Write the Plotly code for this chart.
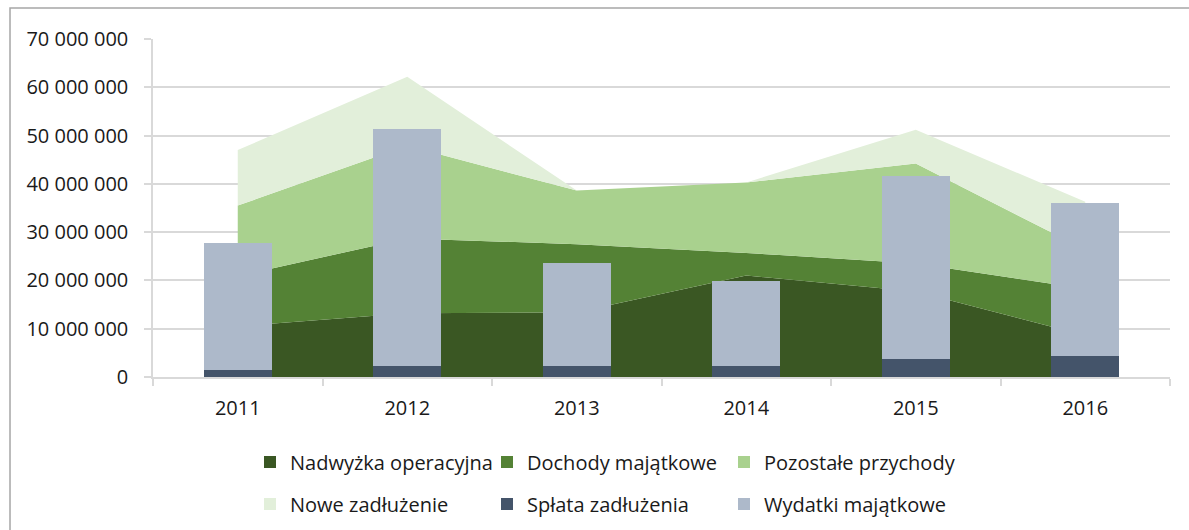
import plotly.graph_objects as go

years = ["2011", "2012", "2013", "2014", "2015", "2016"]

# Stacked areas (values in PLN)
nadwyzka = [10_500_000, 13_200_000, 13_400_000, 21_000_000, 17_700_000, 8_600_000]
dochody = [10_400_000, 15_500_000, 14_100_000, 4_700_000, 5_800_000, 9_700_000]
pozostale = [14_600_000, 19_200_000, 11_100_000, 14_600_000, 20_700_000, 8_100_000]
nowe = [11_500_000, 14_300_000, 0, 0, 7_000_000, 9_900_000]

# Stacked bars
splata = [1_500_000, 2_350_000, 2_350_000, 2_350_000, 3_800_000, 4_300_000]
wydatki = [26_300_000, 49_050_000, 21_250_000, 17_450_000, 37_900_000, 31_800_000]

y_ticks = [0, 10_000_000, 20_000_000, 30_000_000, 40_000_000, 50_000_000, 60_000_000, 70_000_000]

names_area = ["Nadwyżka operacyjna", "Dochody majątkowe", "Pozostałe przychody", "Nowe zadłużenie"]
colors_area = ["#3A5723", "#548235", "#A9D18E", "#E2EFDA"]
names_bar = ["Spłata zadłużenia", "Wydatki majątkowe"]
colors_bar = ["#44546A", "#ADB9CA"]

FONT = "Open Sans, Segoe UI, sans-serif"
TXT = "#1a1a1a"
FS = 20

fig = go.Figure()

for name, vals, col in zip(names_area, [nadwyzka, dochody, pozostale, nowe], colors_area):
    fig.add_trace(go.Scatter(
        x=years, y=vals, name=name, stackgroup="one", mode="none",
        fillcolor=col, line=dict(width=0), showlegend=False,
        xaxis="x", yaxis="y", hoverinfo="name+y"))

for name, vals, col in zip(names_bar, [splata, wydatki], colors_bar):
    fig.add_trace(go.Bar(
        x=years, y=vals, name=name, marker=dict(color=col, line=dict(width=0)),
        width=0.4, showlegend=False, xaxis="x2", yaxis="y2"))

# Legend entries (square swatches)
legend_items = [
    (names_area[0], colors_area[0], "legend"),
    (names_area[1], colors_area[1], "legend"),
    (names_area[2], colors_area[2], "legend"),
    (names_area[3], colors_area[3], "legend2"),
    (names_bar[0], colors_bar[0], "legend2"),
    (names_bar[1], colors_bar[1], "legend2"),
]
for name, col, lg in legend_items:
    fig.add_trace(go.Scatter(
        x=[None], y=[None], mode="markers", name=name, legend=lg,
        marker=dict(symbol="square", size=12, color=col), xaxis="x", yaxis="y"))

legend_common = dict(
    orientation="h", entrywidth=192, entrywidthmode="pixels",
    font=dict(family=FONT, size=FS, color=TXT), bgcolor="rgba(0,0,0,0)",
    xanchor="left", yanchor="middle", itemclick=False, itemdoubleclick=False,
    tracegroupgap=0, traceorder="normal", xref="container", yref="container",
)

fig.update_layout(
    width=1189, height=530,
    margin=dict(l=153, r=19, t=39, b=153),
    paper_bgcolor="white", plot_bgcolor="white",
    separators=", ",
    font=dict(family=FONT, size=FS, color=TXT),
    barmode="stack",
    xaxis=dict(
        type="category", range=[-0.5, 5.5], showgrid=False,
        showline=True, linecolor="#D9D9D9", linewidth=1.5,
        ticks="outside", tickson="boundaries", ticklen=7, tickcolor="#D9D9D9",
        tickwidth=1.5, tickfont=dict(family=FONT, size=FS, color=TXT),
        ticklabelstandoff=12, fixedrange=True,
    ),
    yaxis=dict(
        range=[0, 70_000_000], tickvals=y_ticks, tickformat=",d",
        showgrid=True, gridcolor="#D9D9D9", gridwidth=1.5,
        showline=True, linecolor="#D9D9D9", linewidth=1.5,
        ticks="outside", ticklen=7, tickcolor="#D9D9D9", tickwidth=1.5,
        tickfont=dict(family=FONT, size=FS, color=TXT),
        ticklabelstandoff=12, zeroline=False, fixedrange=True,
    ),
    xaxis2=dict(type="category", range=[-0.5, 5.5], overlaying="x",
                visible=False, fixedrange=True),
    yaxis2=dict(range=[0, 70_000_000], overlaying="y", visible=False,
                fixedrange=True),
    legend=dict(x=250 / 1189, y=1 - 462 / 530, **legend_common),
    legend2=dict(x=250 / 1189, y=1 - 504 / 530, **legend_common),
    shapes=[dict(type="rect", xref="paper", yref="paper",
                 x0=-0.1406, x1=1.2, y0=-0.6, y1=1.0917,
                 line=dict(color="#A6A6A6", width=1.5), layer="below")],
    showlegend=True,
)

fig.write_html("out.html")
